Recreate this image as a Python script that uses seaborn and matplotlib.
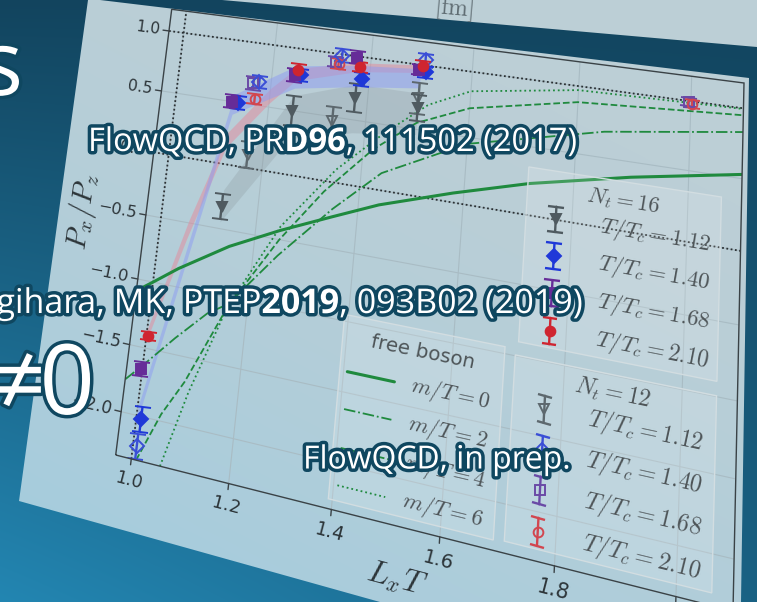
import numpy as np
import pandas as pd
import matplotlib
matplotlib.use("Agg")
import matplotlib.pyplot as plt
import matplotlib.patheffects as pe
from matplotlib import transforms as mtrans
from matplotlib.path import Path
from matplotlib.patches import Polygon
from matplotlib.markers import MarkerStyle
from matplotlib.collections import PathCollection
from matplotlib.colors import to_rgb
import seaborn as sns

W, H, DPI = 757, 602, 100

# ---------------- axis ranges and ticks ----------------
X_LIM = (0.967, 2.09)
Y_LIM = (-2.317, 1.183)
X_TICKS = [1.0, 1.2, 1.4, 1.6, 1.8, 2.0]
X_TICK_LABELS = ["1.0", "1.2", "1.4", "1.6", "1.8", "2.0"]
Y_TICKS = [-2.0, -1.5, -1.0, -0.5, 0.0, 0.5, 1.0]
Y_TICK_LABELS = ["\u22122.0", "\u22121.5", "\u22121.0", "\u22120.5", "0.0", "0.5", "1.0"]
REF_Y = [0.0, 1.0]
REF_X = [1.0]

# ---------------- free boson curves ----------------
FB0_X = [0.967, 1.0, 1.05, 1.15, 1.25, 1.35, 1.44, 1.58, 1.72, 1.9, 2.09]
FB0_Y = [-1.09, -1.0, -0.86, -0.62, -0.43, -0.26, -0.11, 0.07, 0.23, 0.39, 0.53]
FB2_X = [0.967, 1.0, 1.06, 1.12, 1.16, 1.25, 1.35, 1.44, 1.6, 1.85, 2.09]
FB2_Y = [-1.76, -1.63, -1.38, -1.15, -1.05, -0.62, -0.2, 0.13, 0.45, 0.69, 0.83]
FB4_X = [1.01, 1.05, 1.09, 1.16, 1.25, 1.33, 1.42, 1.5, 1.6, 1.8, 2.09]
FB4_Y = [-2.317, -1.95, -1.68, -1.07, -0.5, -0.08, 0.3, 0.55, 0.72, 0.88, 0.95]
FB6_X = [1.06, 1.1, 1.16, 1.25, 1.35, 1.44, 1.52, 1.6, 1.8, 2.09]
FB6_Y = [-2.317, -1.75, -1.07, -0.4, 0.1, 0.44, 0.7, 0.85, 0.97, 0.995]
FB_LABELS = ["$m/T=0$", "$m/T=2$", "$m/T=4$", "$m/T=6$"]

# ---------------- lattice results, N_t = 16 (filled) ----------------
N16_112_X = [1.125, 1.25, 1.375, 1.5]
N16_112_Y = [-0.33, 0.50, 0.675, 0.665]
N16_112_E = [0.10, 0.12, 0.11, 0.10]
N16_140_X = [1.0, 1.125, 1.25, 1.375, 1.5]
N16_140_Y = [-2.02, 0.50, 0.79, 0.825, 0.95]
N16_140_E = [0.09, 0.05, 0.05, 0.05, 0.05]
N16_168_X = [1.0, 1.125, 1.25, 1.375, 1.5]
N16_168_Y = [-1.66, 0.50, 0.78, 0.99, 0.96]
N16_168_E = [0.05, 0.05, 0.05, 0.05, 0.04]
N16_210_X = [1.0, 1.25, 1.375, 1.5]
N16_210_Y = [-1.41, 0.83, 0.92, 0.99]
N16_210_E = [0.03, 0.05, 0.04, 0.04]

# ---------------- lattice results, N_t = 12 (open) ----------------
N12_112_X = [1.167, 1.333, 1.5]
N12_112_Y = [0.10, 0.47, 0.74]
N12_112_E = [0.10, 0.11, 0.12]
N12_140_X = [1.0, 1.167, 1.333, 1.5]
N12_140_Y = [-2.22, 0.69, 0.99, 1.04]
N12_140_E = [0.09, 0.05, 0.05, 0.05]
N12_168_X = [1.167, 1.333, 2.0]
N12_168_Y = [0.67, 0.93, 0.99]
N12_168_E = [0.05, 0.04, 0.03]
N12_210_X = [1.167, 1.333, 2.0]
N12_210_Y = [0.55, 0.92, 0.98]
N12_210_E = [0.04, 0.04, 0.03]
TEMP_LABELS = ["$T/T_c=1.12$", "$T/T_c=1.40$", "$T/T_c=1.68$", "$T/T_c=2.10$"]

# ---------------- shaded bands ----------------
BAND_BLUE_X = [1.0, 1.125, 1.25, 1.375, 1.5]
BAND_BLUE_LO = [-2.08, 0.40, 0.68, 0.76, 0.82]
BAND_BLUE_HI = [-1.95, 0.56, 0.86, 0.93, 0.97]
BAND_RED_X = [1.0, 1.06, 1.12, 1.2, 1.25, 1.375, 1.5]
BAND_RED_LO = [-1.46, -0.62, 0.13, 0.53, 0.74, 0.88, 0.94]
BAND_RED_HI = [-1.36, -0.48, 0.25, 0.65, 0.84, 0.95, 1.00]
BAND_GRAY_X = [1.125, 1.25, 1.375, 1.5]
BAND_GRAY_LO = [-0.45, 0.28, 0.40, 0.46]
BAND_GRAY_HI = [-0.20, 0.62, 0.78, 0.78]

# ---------------- colours ----------------
GREEN = "#1f8a3e"
GRAY = "#4f5a60"
BLUE = "#1f38d8"
PURPLE = "#662c98"
RED = "#cf2530"
GRAY_O = "#5d686e"
BLUE_O = "#3a4ed6"
PURPLE_O = "#6a4aa6"
RED_O = "#d2464f"
INK = "#2c3438"
GRID = "#a9bcc4"

# corners of the tilted plot panel on the slide (pixels from top-left):
# bottom-left, bottom-right, top-right, top-left
CORNERS = [(115.7, 455.0), (733.0, 611.0), (744.0, 83.0), (171.7, 9.3)]
CHART_PAPER = [(88, 0), (100, 0), (749, 78), (741, 602), (380, 602), (19, 501)]
UPPER_PAPER = [(222, 0), (757, 0), (757, 47), (370, 13)]


class PanelTilt(mtrans.Transform):
    """Projective map of the figure rectangle onto a tilted quadrilateral."""
    input_dims = 2
    output_dims = 2
    is_separable = False
    has_inverse = True

    def __init__(self, corners, inverse=False):
        super().__init__()
        self.corners = np.asarray(corners, float)
        self.inverse = inverse
        self.M = self._square_to_quad(self.corners)
        self.Minv = np.linalg.inv(self.M)

    @staticmethod
    def _square_to_quad(c):
        (x0, y0), (x1, y1), (x2, y2), (x3, y3) = c
        sx = x0 - x1 + x2 - x3
        sy = y0 - y1 + y2 - y3
        dx1, dx2 = x1 - x2, x3 - x2
        dy1, dy2 = y1 - y2, y3 - y2
        den = dx1 * dy2 - dx2 * dy1
        g = (sx * dy2 - dx2 * sy) / den
        h = (dx1 * sy - sx * dy1) / den
        return np.array([[x1 - x0 + g * x1, x3 - x0 + h * x3, x0],
                         [y1 - y0 + g * y1, y3 - y0 + h * y3, y0],
                         [g, h, 1.0]])

    def transform_non_affine(self, values):
        v = np.asarray(values, float)
        shape = v.shape
        v = v.reshape(-1, 2)
        ones = np.ones(len(v))
        if not self.inverse:
            p = np.column_stack([v[:, 0] / W, v[:, 1] / H, ones]) @ self.M.T
            out = np.column_stack([p[:, 0] / p[:, 2], H - p[:, 1] / p[:, 2]])
        else:
            p = np.column_stack([v[:, 0], H - v[:, 1], ones]) @ self.Minv.T
            out = np.column_stack([p[:, 0] / p[:, 2] * W, p[:, 1] / p[:, 2] * H])
        return out.reshape(shape)

    def transform_path_non_affine(self, path):
        return Path(self.transform_non_affine(path.vertices), path.codes)

    def inverted(self):
        return PanelTilt(self.corners, inverse=not self.inverse)


sns.set_theme(style="white")
plt.rcParams["font.family"] = ["DejaVu Sans"]
plt.rcParams["mathtext.fontset"] = "custom"
plt.rcParams["mathtext.rm"] = "Open Sans"
plt.rcParams["mathtext.it"] = "Open Sans:italic"
plt.rcParams["mathtext.bf"] = "Open Sans:bold"

fig = plt.figure(figsize=(W / DPI, H / DPI), dpi=DPI)

# ---------------- slide background and paper ----------------
bg = fig.add_axes([0, 0, 1, 1], zorder=0)
bg.set_xlim(0, W)
bg.set_ylim(H, 0)
bg.set_axis_off()
yy, xx = np.mgrid[0:H, 0:W] + 0.5
t_bg = (yy / H) * (1 - 0.55 * xx / W)
c0, c1 = np.array(to_rgb("#12445e")), np.array(to_rgb("#2386b2"))
bg.imshow(c0 + (c1 - c0) * t_bg[..., None], extent=(0, W, H, 0), aspect="auto", zorder=0)

t_pp = np.clip(0.7 * (yy / H) + 0.45 * (1 - xx / W) - 0.25, 0, 1) ** 1.4
p0, p1 = np.array(to_rgb("#bccfd6")), np.array(to_rgb("#9dcbe0"))
paper_rgb = p0 + (p1 - p0) * t_pp[..., None]
for outline in (CHART_PAPER, UPPER_PAPER):
    poly = Polygon(outline, closed=True, fc="none", ec="none", transform=bg.transData)
    bg.add_patch(poly)
    im = bg.imshow(paper_rgb, extent=(0, W, H, 0), aspect="auto", zorder=1)
    im.set_clip_path(poly)
bg.text(454, 8, r"$[\mathrm{fm}]$", fontsize=17, color="#5f6c72", ha="center", va="center",
        rotation=-5, math_fontfamily="cm", zorder=3)

# ---------------- the plot, drawn in data space ----------------
ax = fig.add_axes([0, 0, 1, 1], zorder=2)
ax.set_xlim(*X_LIM)
ax.set_ylim(*Y_LIM)
ax.set_axis_off()
tilt = PanelTilt(CORNERS)
TA = ax.transAxes + tilt
clip = Polygon([[0, 0], [1, 0], [1, 1], [0, 1]], closed=True, transform=TA)

for xt in X_TICKS:
    ax.axvline(xt, color=GRID, lw=0.8, zorder=1)
for yt in Y_TICKS:
    ax.axhline(yt, color=GRID, lw=0.8, zorder=1)
for yr in REF_Y:
    ax.axhline(yr, color="#2a3033", lw=1.3, ls=(0, (1, 1.4)), zorder=2)
for xr in REF_X:
    ax.axvline(xr, color="#2a3033", lw=1.3, ls=(0, (1, 1.4)), zorder=2)

ax.fill_between(BAND_GRAY_X, BAND_GRAY_LO, BAND_GRAY_HI, color="#7d888e", alpha=0.22, lw=0, zorder=3)
ax.fill_between(BAND_RED_X, BAND_RED_LO, BAND_RED_HI, color="#e48a9c", alpha=0.5, lw=0, zorder=3)
ax.fill_between(BAND_BLUE_X, BAND_BLUE_LO, BAND_BLUE_HI, color="#8d9cf2", alpha=0.5, lw=0, zorder=3)

curves = pd.concat([
    pd.DataFrame({"LxT": FB0_X, "ratio": FB0_Y, "mass": FB_LABELS[0]}),
    pd.DataFrame({"LxT": FB2_X, "ratio": FB2_Y, "mass": FB_LABELS[1]}),
    pd.DataFrame({"LxT": FB4_X, "ratio": FB4_Y, "mass": FB_LABELS[2]}),
    pd.DataFrame({"LxT": FB6_X, "ratio": FB6_Y, "mass": FB_LABELS[3]}),
])
FB_STYLE = [("-", 2.2), ("-.", 1.3), ("--", 1.3), (":", 1.3)]
for lab, (ls, lw) in zip(FB_LABELS, FB_STYLE):
    sub = curves[curves["mass"] == lab]
    sns.lineplot(data=sub, x="LxT", y="ratio", ax=ax, color=GREEN, lw=lw, ls=ls,
                 legend=False, estimator=None, zorder=4)

cap_sets = []


def err_series(xs, ys, es, color, marker, filled, dx, z):
    xs = np.asarray(xs, float) + dx
    cont = ax.errorbar(xs, ys, yerr=es, fmt=marker, ms=7, mew=1.4,
                       mfc=color if filled else "none", mec=color, ecolor=color,
                       elinewidth=1.7, capsize=5.5, capthick=1.7, zorder=z)
    cap_sets.append((cont[1], float(np.mean(xs)), float(np.mean(ys))))


err_series(N12_112_X, N12_112_Y, N12_112_E, GRAY_O, "v", False, 0.0, 5)
err_series(N12_168_X, N12_168_Y, N12_168_E, PURPLE_O, "s", False, -0.004, 5)
err_series(N12_210_X, N12_210_Y, N12_210_E, RED_O, "o", False, 0.002, 5)
err_series(N12_140_X, N12_140_Y, N12_140_E, BLUE_O, "D", False, 0.008, 5)
err_series(N16_112_X, N16_112_Y, N16_112_E, GRAY, "v", True, 0.0, 6)
err_series(N16_140_X, N16_140_Y, N16_140_E, BLUE, "D", True, 0.01, 6)
err_series(N16_168_X, N16_168_Y, N16_168_E, PURPLE, "s", True, -0.003, 6)
err_series(N16_210_X, N16_210_Y, N16_210_E, RED, "o", True, 0.004, 6)

# move everything drawn so far onto the tilted panel
for ln in ax.lines:
    ln.set_transform(ln.get_transform() + tilt)
    ln.set_clip_path(clip)
for col in ax.collections:
    if isinstance(col, PathCollection):
        col.set_offset_transform(col.get_offset_transform() + tilt)
    else:
        col.set_transform(col.get_transform() + tilt)
    col.set_clip_path(clip)


def angle_u(u, v):
    a = TA.transform((u, v))
    b = TA.transform((u + 1e-3, v))
    return np.degrees(np.arctan2(b[1] - a[1], b[0] - a[0]))


def angle_v(u, v):
    a = TA.transform((u, v))
    b = TA.transform((u, v + 1e-3))
    return np.degrees(np.arctan2(b[1] - a[1], b[0] - a[0]))


def _area(u, v):
    a = TA.transform((u, v))
    b = TA.transform((u + 1e-3, v)) - a
    c = TA.transform((u, v + 1e-3)) - a
    return abs(b[0] * c[1] - b[1] * c[0])


REF_AREA = _area(0.5, 0.5)


def scale_at(u, v):
    return np.sqrt(_area(u, v) / REF_AREA)


def tilted_cap(u, v):
    return MarkerStyle("_", transform=mtrans.Affine2D().rotate_deg(angle_u(u, v)))


for caps, mx, my in cap_sets:
    mu, mv = ax.transLimits.transform((mx, my))
    for c in caps:
        c.set_marker(tilted_cap(mu, mv))


def ptext(u, v, s, size, rot=None, **kw):
    r = angle_u(u, v) if rot is None else rot
    return ax.text(u, v, s, transform=TA, rotation=r, rotation_mode="anchor",
                   fontsize=size * scale_at(u, v), **kw)


# frame, ticks and tick labels
ax.add_patch(Polygon([[0, 0], [1, 0], [1, 1], [0, 1]], closed=True, fill=False,
                     ec="#3a4246", lw=1.0, transform=TA, zorder=8))
for xt, lab in zip(X_TICKS, X_TICK_LABELS):
    u = ax.transLimits.transform((xt, Y_LIM[0]))[0]
    ax.plot([u, u], [0, -0.012], transform=TA, color="#3a4246", lw=1.0, zorder=8)
    ptext(u, -0.045, lab, 13, ha="center", va="center", color=INK)
for yt, lab in zip(Y_TICKS, Y_TICK_LABELS):
    v = ax.transLimits.transform((X_LIM[0], yt))[1]
    ax.plot([0, -0.012], [v, v], transform=TA, color="#3a4246", lw=1.0, zorder=8)
    ptext(-0.018, v, lab, 13, ha="right", va="center", color=INK)
ptext(-0.125, 0.50, r"$P_x/P_z$", 24, rot=angle_v(-0.125, 0.5), ha="center", va="center",
      color=INK, math_fontfamily="cm")
ptext(0.50, -0.10, r"$L_xT$", 21, ha="center", va="center", color=INK, math_fontfamily="cm")


# legends
def legend_box(u0, u1, v0, v1):
    ax.add_patch(Polygon([[u0, v0], [u1, v0], [u1, v1], [u0, v1]], closed=True,
                         fc=(1, 1, 1, 0.16), ec="#d2dde1", lw=1.0, transform=TA, zorder=7))


def legend_err(u, v, color, marker, filled, half=0.026):
    ax.plot([u, u], [v - half, v + half], transform=TA, color=color, lw=1.7, zorder=9)
    ax.plot([u, u], [v - half, v + half], transform=TA, ls="none", marker=tilted_cap(u, v),
            ms=11, mew=1.7, color=color, zorder=9)
    ax.plot([u], [v], transform=TA, ls="none", marker=marker, ms=7, mew=1.4,
            mfc=color if filled else "none", mec=color, zorder=10)


legend_box(0.668, 0.97, 0.405, 0.762)
ptext(0.821, 0.722, r"$N_t=16$", 15.5, ha="center", va="center", color=INK, math_fontfamily="cm")
for v, lab, col, mk in zip([0.663, 0.588, 0.513, 0.438], TEMP_LABELS,
                           [GRAY, BLUE, PURPLE, RED], ["v", "D", "s", "o"]):
    legend_err(0.716, v, col, mk, True)
    ptext(0.787, v, lab, 15.5, ha="left", va="center", color=INK, math_fontfamily="cm")

legend_box(0.664, 0.97, 0.022, 0.378)
ptext(0.817, 0.343, r"$N_t=12$", 15.5, ha="center", va="center", color=INK, math_fontfamily="cm")
for v, lab, col, mk in zip([0.285, 0.208, 0.131, 0.054], TEMP_LABELS,
                           [GRAY_O, BLUE_O, PURPLE_O, RED_O], ["v", "D", "s", "o"]):
    legend_err(0.714, v, col, mk, False)
    ptext(0.782, v, lab, 15.5, ha="left", va="center", color=INK, math_fontfamily="cm")

legend_box(0.379, 0.647, 0.019, 0.39)
ptext(0.515, 0.3465, "free boson", 14, ha="center", va="center", color=INK)
for v, lab, (ls, lw) in zip([0.2755, 0.20, 0.1225, 0.049], FB_LABELS, FB_STYLE):
    ax.plot([0.392, 0.472], [v, v], transform=TA, color=GREEN, ls=ls, lw=lw, zorder=9)
    ptext(0.50, v, lab, 15.5, ha="left", va="center", color=INK, math_fontfamily="cm")

# ---------------- slide captions ----------------
ov = fig.add_axes([0, 0, 1, 1], zorder=5)
ov.set_xlim(0, W)
ov.set_ylim(H, 0)
ov.set_axis_off()
glow = [pe.withStroke(linewidth=5, foreground="#0f4760")]
cap_kw = dict(color="white", family=["Open Sans", "DejaVu Sans"], path_effects=glow,
              math_fontfamily="custom", zorder=10)
ov.text(23, 95, "s", fontsize=65, ha="right", va="baseline", **cap_kw)
ov.text(88, 142, r"FlowQCD, PR$\mathbf{D96}$, 111502 (2017)", fontsize=23.5, ha="left",
        va="center", **cap_kw)
ov.text(583, 304, r"gihara, MK, PTEP$\mathbf{2019}$, 093B02 (2019)", fontsize=24.5, ha="right",
        va="center", **cap_kw)
ov.text(46, 414, "\u2260", fontsize=70, ha="right", va="baseline", **cap_kw)
ov.text(95, 414, "0", fontsize=70, ha="right", va="baseline", **cap_kw)
ov.text(303, 460, "FlowQCD, in prep.", fontsize=23, ha="left", va="center", **cap_kw)

fig.savefig("out.png", dpi=DPI)
